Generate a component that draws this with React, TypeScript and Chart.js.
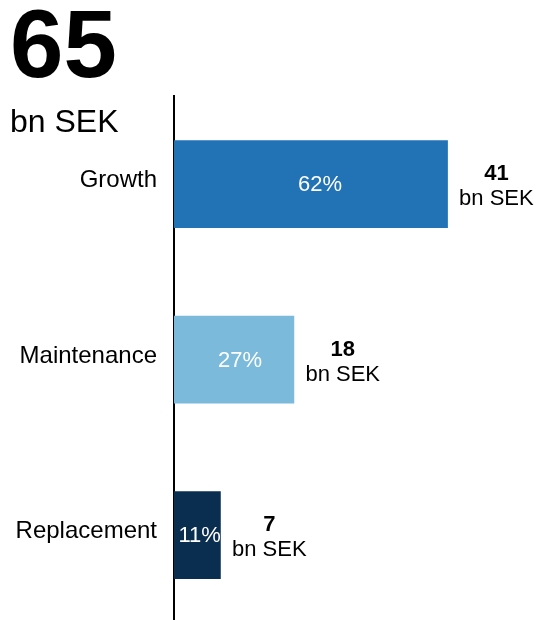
import React, { useEffect, useRef } from "react";
import { Chart, registerables } from "chart.js";

Chart.register(...registerables);

const categories = ["Growth", "Maintenance", "Replacement"];
const values = [41, 18, 7];
const shareLabels = ["62%", "27%", "11%"];
const barColors = ["#2272b6", "#7bbadb", "#0a2e50"];
const totalValue = "65";
const unitLabel = "bn SEK";

const FONT = '"Liberation Sans", Arial, Helvetica, sans-serif';

const labelPlugin = {
  id: "customLabels",
  afterDatasetsDraw(chart: any) {
    const ctx = chart.ctx;
    const meta = chart.getDatasetMeta(0);
    const yScale = chart.scales.y;
    ctx.save();
    ctx.textBaseline = "alphabetic";
    meta.data.forEach((bar: any, i: number) => {
      const left = bar.base;
      const right = bar.x;
      const cy = bar.y;
      const w = right - left;
      // category label
      ctx.fillStyle = "#000000";
      ctx.font = `24px ${FONT}`;
      ctx.textAlign = "right";
      ctx.fillText(categories[i], yScale.right - 17, cy + 3);
      // share inside bar
      ctx.fillStyle = "#ffffff";
      ctx.font = `22px ${FONT}`;
      ctx.textAlign = "center";
      ctx.fillText(shareLabels[i], left + w / 2 + Math.min(9, w * 0.05), cy + 7);
      // value and unit outside bar
      ctx.fillStyle = "#000000";
      ctx.font = `bold 22px ${FONT}`;
      ctx.fillText(String(values[i]), right + 48.5, cy - 4);
      ctx.font = `22px ${FONT}`;
      ctx.fillText(unitLabel, right + 48.5, cy + 21);
    });
    ctx.restore();
  },
  afterDraw(chart: any) {
    const ctx = chart.ctx;
    ctx.save();
    ctx.fillStyle = "#000000";
    ctx.textAlign = "left";
    ctx.textBaseline = "alphabetic";
    ctx.font = `bold 96px ${FONT}`;
    ctx.fillText(totalValue, 10, 77);
    ctx.font = `32px ${FONT}`;
    ctx.fillText(unitLabel, 10, 132);
    ctx.restore();
  },
};

export default function App() {
  const ref = useRef<HTMLCanvasElement | null>(null);
  useEffect(() => {
    if (!ref.current) return;
    const chart = new Chart(ref.current, {
      type: "bar",
      data: {
        labels: categories,
        datasets: [
          {
            data: values,
            backgroundColor: barColors,
            borderWidth: 0,
            categoryPercentage: 1,
            barPercentage: 0.5,
          },
        ],
      },
      options: {
        indexAxis: "y",
        responsive: false,
        animation: false,
        layout: { padding: { top: 96.25, right: 31, bottom: 0, left: 0 } },
        plugins: {
          legend: { display: false },
          tooltip: { enabled: false },
          title: { display: false },
        },
        scales: {
          x: { display: false, min: 0, max: 50 },
          y: {
            grid: { display: false, drawTicks: false },
            border: { display: true, color: "#000000", width: 2 },
            ticks: { display: false },
            afterFit(scale: any) {
              scale.width = 174;
              scale.paddingTop = 0;
              scale.paddingBottom = 0;
            },
          },
        },
      },
      plugins: [labelPlugin],
    });
    return () => chart.destroy();
  }, []);
  return (
    <div
      style={{
        position: "fixed",
        left: 0,
        top: 0,
        width: 539,
        height: 620,
        overflow: "hidden",
        background: "#ffffff",
      }}
    >
      <canvas ref={ref} width={539} height={623} style={{ display: "block" }} />
    </div>
  );
}
